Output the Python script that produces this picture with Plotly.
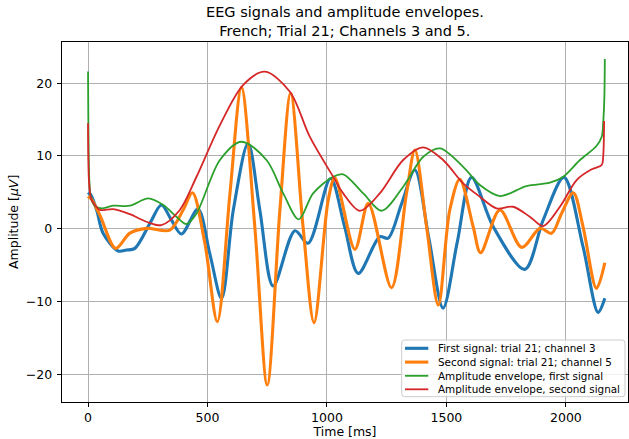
import plotly.graph_objects as go

# ---- data (time in ms, amplitude in microvolts) ----
t_sig1 = [0, 8, 36, 63, 126, 161, 196, 259, 307, 349, 391, 460, 510, 559, 608, 670, 719, 775,
          866, 921, 1015, 1073, 1131, 1221, 1256, 1312, 1368, 1427, 1486, 1545, 1605, 1696, 1828,
          1905, 1992, 2072, 2135, 2163]
v_sig1 = [4.7, 4.86, 2.57, -0.63, -3.06, -2.93, -2.7, 0.74, 3.26, 1.2, -0.73, 2.7, -3.5, -9.57,
          2.57, 11.73, 2.57, -7.87, -0.27, -2.0, 6.9, 0.4, -6.13, -1.1, -1.3, 3.4, 8.06, -1.4,
          -10.9, -1.9, 7.06, 0.27, -5.58, 1.2, 7.06, -2.5, -11.5, -9.56]

t_sig2 = [0, 8, 49, 116, 175, 245, 342, 398, 437, 489, 541, 594, 642, 698, 750, 803, 848, 900,
          946, 1005, 1033, 1117, 1173, 1270, 1333, 1368, 1417, 1466, 1514, 1556, 1612, 1643, 1724,
          1815, 1892, 1940, 1982, 2031, 2072, 2128, 2163]
v_sig2 = [4.17, 4.3, 1.9, -2.7, -0.6, 0.05, -0.18, 2.57, 4.95, -2.0, -12.77, 4.86, 19.42, 0.27,
          -21.47, 2.57, 18.6, 0.27, -12.9, 3.9, 7.0, -2.83, 3.49, -8.1, 4.86, 10.81, 0.27, -10.48,
          2.57, 6.78, 0.27, -3.3, 2.57, -2.56, 0.05, -0.63, 2.1, 4.95, 0.27, -8.19, -4.67]

t_env1 = [0, 1, 2, 5, 12, 30, 56, 105, 175, 252, 315, 370, 412, 454, 552, 642, 747, 817, 882,
          942, 1026, 1068, 1152, 1229, 1319, 1403, 1473, 1570, 1640, 1724, 1835, 1933, 1989,
          2059, 2128, 2150, 2156, 2161, 2163]
v_env1 = [21.6, 16.0, 12.6, 7.0, 4.3, 3.1, 2.8, 3.16, 3.16, 4.17, 3.26, 1.65, 0.65, 2.1, 9.44,
          11.95, 9.44, 4.86, 1.29, 4.86, 7.14, 7.47, 4.86, 2.47, 5.77, 9.89, 11.04, 8.5, 6.0,
          4.49, 5.86, 6.32, 7.14, 9.44, 11.36, 12.64, 14.5, 18.0, 23.3]

t_env2 = [0, 1, 4, 12, 21, 49, 105, 175, 245, 307, 384, 454, 552, 649, 740, 845, 928, 1026,
          1068, 1138, 1221, 1319, 1403, 1486, 1570, 1640, 1710, 1779, 1849, 1905, 1975, 2045,
          2108, 2150, 2156, 2160]
v_env2 = [14.5, 10.0, 6.5, 4.2, 3.6, 2.6, 2.7, 2.0, 0.96, 0.5, 2.57, 7.14, 14.24, 19.74, 21.57,
          18.82, 12.64, 7.14, 4.86, 2.47, 4.86, 9.44, 11.18, 9.44, 6.24, 4.4, 2.8, 3.02, 1.65,
          0.37, 3.02, 6.69, 8.16, 8.75, 9.89, 14.8]

names = ["First signal: trial 21; channel 3",
         "Second signal: trial 21; channel 5",
         "Amplitude envelope, first signal",
         "Amplitude envelope, second signal"]
colors = ["#1f77b4", "#ff7f0e", "#2ca02c", "#d62728"]
widths = [3.1, 3.1, 1.8, 1.8]

x_ticks = [0, 500, 1000, 1500, 2000]
y_ticks = [-20, -10, 0, 10, 20]

title_text = "EEG signals and amplitude envelopes.<br>French; Trial 21; Channels 3 and 5."
x_label = "Time [ms]"
y_label = "Amplitude [<i>μV</i>]"

# ---- figure ----
W, H = 629, 439
L, R, T, B = 62, 1, 42, 37
PW, PH = W - L - R, H - T - B
FONT = "DejaVu Sans"


def px(x):
    return (x - L) / PW


def py(y):
    return (H - B - y) / PH


fig = go.Figure()
series = [(t_sig1, v_sig1), (t_sig2, v_sig2), (t_env1, v_env1), (t_env2, v_env2)]
for (tt, vv), n, c, w in zip(series, names, colors, widths):
    fig.add_trace(go.Scatter(x=tt, y=vv, mode="lines", name=n, showlegend=False,
                             line=dict(color=c, width=w, shape="spline", smoothing=0.9)))

axis_common = dict(showline=True, mirror=True, linecolor="black", linewidth=1,
                   ticks="outside", ticklen=4.4, tickwidth=1, tickcolor="black",
                   showgrid=True, gridcolor="#b0b0b0", gridwidth=1, zeroline=False,
                   tickfont=dict(family=FONT, size=12.5, color="black"))

fig.update_layout(
    width=W, height=H,
    margin=dict(l=L, r=R, t=T, b=B),
    paper_bgcolor="white", plot_bgcolor="white",
    font=dict(family=FONT, color="black"),
    xaxis=dict(range=[-109, 2260], tickvals=x_ticks, ticktext=[str(v) for v in x_ticks],
               title=dict(text=x_label, standoff=2, font=dict(family=FONT, size=12.5, color="black")),
               automargin=False, **axis_common),
    yaxis=dict(range=[-23.8, 25.65], tickvals=y_ticks,
               ticktext=[("\u2212" + str(-v)) if v < 0 else str(v) for v in y_ticks],
               ticklabelstandoff=2, **axis_common),
    showlegend=False,
)

ann = []
# title (two lines, one text)
ann.append(dict(text=title_text, x=px(345), y=py(22), xref="paper", yref="paper",
                showarrow=False, xanchor="center", yanchor="middle",
                font=dict(family=FONT, size=14.5, color="black")))
# y axis label
ann.append(dict(text=y_label, x=px(13), y=py(222), xref="paper", yref="paper",
                showarrow=False, xanchor="center", yanchor="middle", textangle=-90,
                font=dict(family=FONT, size=12.5, color="black")))

# manual legend
shapes = []
bx0, bx1, by0, by1, rad = 401.7, 625, 340, 396.7, 3
path = (f"M {px(bx0 + rad)},{py(by0)} L {px(bx1 - rad)},{py(by0)} "
        f"Q {px(bx1)},{py(by0)} {px(bx1)},{py(by0 + rad)} "
        f"L {px(bx1)},{py(by1 - rad)} Q {px(bx1)},{py(by1)} {px(bx1 - rad)},{py(by1)} "
        f"L {px(bx0 + rad)},{py(by1)} Q {px(bx0)},{py(by1)} {px(bx0)},{py(by1 - rad)} "
        f"L {px(bx0)},{py(by0 + rad)} Q {px(bx0)},{py(by0)} {px(bx0 + rad)},{py(by0)} Z")
shapes.append(dict(type="path", path=path, xref="paper", yref="paper",
                   fillcolor="rgba(255,255,255,0.8)", line=dict(color="#cccccc", width=1), layer="above"))
rows = [348.3, 362.1, 375.8, 389.3]
for yrow, n, c, w in zip(rows, names, colors, widths):
    shapes.append(dict(type="line", xref="paper", yref="paper", x0=px(405), x1=px(428.3),
                       y0=py(yrow), y1=py(yrow), line=dict(color=c, width=w), layer="above"))
    ann.append(dict(text=n, x=px(435.7), y=py(yrow), xref="paper", yref="paper",
                    showarrow=False, xanchor="left", yanchor="middle",
                    font=dict(family=FONT, size=10.4, color="black")))

fig.update_layout(annotations=ann, shapes=shapes)
fig.write_html("out.html")
